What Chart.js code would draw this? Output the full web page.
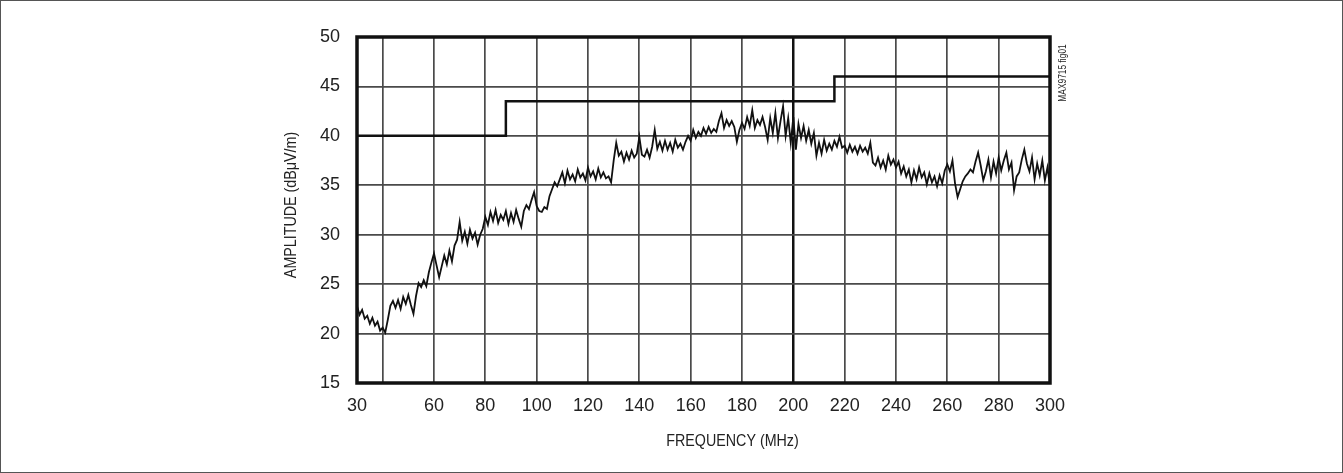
<!DOCTYPE html>
<html>
<head>
<meta charset="utf-8">
<title>MAX9715 fig01</title>
<script src="https://cdn.jsdelivr.net/npm/chart.js@4.4.1/dist/chart.umd.min.js"></script>
<style>
  html, body { margin: 0; padding: 0; background: #fff; }
  .frame { width: 1341px; height: 471px; border: 1px solid #555; }
  canvas { display: block; }
</style>
</head>
<body>
<div class="frame"><canvas id="chart" width="1341" height="471"></canvas></div>
<script>
const freq = [
  30, 31, 32, 33, 34, 35, 36, 37, 38, 39,
  40, 41, 42, 43, 44, 45, 46, 47, 48, 49,
  50, 51, 52, 53, 54, 55, 56, 57, 58, 59,
  60, 61, 62, 63, 64, 65, 66, 67, 68, 69,
  70, 71, 72, 73, 74, 75, 76, 77, 78, 79,
  80, 81, 82, 83, 84, 85, 86, 87, 88, 89,
  90, 91, 92, 93, 94, 95, 96, 97, 98, 99,
  100, 101, 102, 103, 104, 105, 106, 107, 108, 109,
  110, 111, 112, 113, 114, 115, 116, 117, 118, 119,
  120, 121, 122, 123, 124, 125, 126, 127, 128, 129,
  130, 131, 132, 133, 134, 135, 136, 137, 138, 139,
  140, 141, 142, 143, 144, 145, 146, 147, 148, 149,
  150, 151, 152, 153, 154, 155, 156, 157, 158, 159,
  160, 161, 162, 163, 164, 165, 166, 167, 168, 169,
  170, 171, 172, 173, 174, 175, 176, 177, 178, 179,
  180, 181, 182, 183, 184, 185, 186, 187, 188, 189,
  190, 191, 192, 193, 194, 195, 196, 197, 198, 199,
  200, 201, 202, 203, 204, 205, 206, 207, 208, 209,
  210, 211, 212, 213, 214, 215, 216, 217, 218, 219,
  220, 221, 222, 223, 224, 225, 226, 227, 228, 229,
  230, 231, 232, 233, 234, 235, 236, 237, 238, 239,
  240, 241, 242, 243, 244, 245, 246, 247, 248, 249,
  250, 251, 252, 253, 254, 255, 256, 257, 258, 259,
  260, 261, 262, 263, 264, 265, 266, 267, 268, 269,
  270, 271, 272, 273, 274, 275, 276, 277, 278, 279,
  280, 281, 282, 283, 284, 285, 286, 287, 288, 289,
  290, 291, 292, 293, 294, 295, 296, 297, 298, 299,
  300
];

const amplitude = [
  22.8, 21.9, 22.4, 21.5, 21.8, 21.0, 21.6, 20.8, 21.2, 20.3,
  20.6, 20.1, 21.4, 22.8, 23.3, 22.6, 23.4, 22.5, 23.7, 23.0,
  23.9, 22.9, 22.0, 23.8, 25.1, 24.7, 25.4, 24.8, 26.2, 27.2,
  28.1, 26.9, 25.7, 26.8, 27.9, 27.0, 28.4, 27.3, 28.9, 29.5,
  31.3, 29.4, 30.3, 29.1, 30.5, 29.6, 30.2, 29.0, 30.0, 30.6,
  31.8, 31.0, 32.3, 31.4, 32.5, 31.2, 32.0, 31.5, 32.4, 31.1,
  32.2, 31.3, 32.5, 31.6, 30.8, 32.4, 33.0, 32.6, 33.5, 34.3,
  32.9, 32.4, 32.3, 32.8, 32.6, 33.9, 34.6, 35.3, 34.9, 35.6,
  36.3, 35.2, 36.5, 35.6, 36.1, 35.4, 36.6, 35.8, 36.2, 35.5,
  36.8, 35.9, 36.4, 35.6, 36.7, 35.8, 36.3, 35.7, 35.9, 35.3,
  37.5, 39.3, 38.0, 38.4, 37.4, 38.3, 37.6, 38.5, 37.8, 38.2,
  39.9, 38.1, 37.9, 38.6, 37.8, 38.9, 40.6, 38.7, 39.4, 38.5,
  39.5, 38.6, 39.3, 38.4, 39.6, 38.8, 39.2, 38.6, 39.4, 40.0,
  39.5, 40.6, 39.8, 40.4, 40.0, 40.8, 40.2, 40.9, 40.3, 40.7,
  40.4, 41.5, 42.3, 40.8, 41.6, 41.0, 41.5, 40.9, 39.4, 40.6,
  41.3, 40.7, 41.9, 41.0, 42.6, 40.8, 41.6, 41.1, 41.9, 40.9,
  39.6, 41.8, 40.3, 42.3, 39.8, 41.5, 43.0, 40.0, 41.8, 39.3,
  41.9, 38.6, 41.2, 39.8, 41.0, 39.5, 40.6, 39.2, 40.3, 38.0,
  39.3, 38.2, 39.6, 38.5, 39.2, 38.6, 39.5, 38.9, 39.9, 38.8,
  39.0, 38.3, 39.1, 38.4, 38.9, 38.2, 39.0, 38.4, 38.8, 38.2,
  39.3, 37.3, 37.0, 37.8, 36.8, 37.5, 36.6, 38.0, 37.1, 37.6,
  36.8, 37.4, 36.2, 36.9, 35.9, 36.6, 35.3, 36.5, 35.6, 36.8,
  35.8, 36.3, 35.1, 36.2, 35.3, 35.9, 34.9, 36.0, 35.2, 36.5,
  37.1, 36.4, 37.5, 35.2, 33.8, 34.6, 35.4, 35.9, 36.2, 36.6,
  36.3, 37.4, 38.3, 37.0, 35.5, 36.4, 37.6, 35.8, 37.4, 36.2,
  37.8, 36.5, 37.5, 38.3, 36.6, 37.3, 34.5, 35.9, 36.3, 37.6,
  38.6, 37.2, 36.4, 37.8, 35.6, 37.2, 36.0, 37.5, 35.5, 36.8,
  34.9
];

// emission limit steps
const limitFreq = [30, 88, 216, 300];
const limitLevel = [40, 43.5, 46, 46];

const xGrid = [30, 40, 60, 80, 100, 120, 140, 160, 180, 200, 220, 240, 260, 280, 300];
const xTickLabels = [30, 60, 80, 100, 120, 140, 160, 180, 200, 220, 240, 260, 280, 300];

const fontFamily = "'Liberation Sans Narrow', 'Liberation Sans', sans-serif";
const xTitle = 'FREQUENCY (MHz)';
const yTitle = 'AMPLITUDE (dB\u03BCV/m)';
const figTag = 'MAX9715 fig01';

// narrow text, the original uses a condensed face
function narrowText(ctx, text, x, y, rot) {
  ctx.save();
  ctx.translate(x, y);
  ctx.rotate(rot);
  ctx.scale(0.84, 1);
  ctx.fillText(text, 0, 0);
  ctx.restore();
}

const framePlugin = {
  id: 'framePlugin',
  afterDatasetsDraw(c) {
    const { ctx, chartArea: a } = c;
    ctx.save();
    ctx.strokeStyle = '#111';
    ctx.lineWidth = 3.5;
    ctx.strokeRect(a.left, a.top, a.right - a.left, a.bottom - a.top);

    ctx.fillStyle = '#222';
    ctx.textAlign = 'center';
    ctx.textBaseline = 'middle';
    ctx.font = '17px ' + fontFamily;
    narrowText(ctx, xTitle, (a.left + a.right) / 2 + 29, 440, 0);
    narrowText(ctx, yTitle, 290, 204, -Math.PI / 2);

    ctx.font = '10px ' + fontFamily;
    narrowText(ctx, figTag, 1062, 72, -Math.PI / 2);
    ctx.restore();
  }
};

const chart = document.querySelector('#chart').getContext('2d');
new Chart(chart, {
  type: 'line',
  data: {
    datasets: [
      {
        label: 'Emission',
        data: freq.map((f, i) => ({ x: f, y: amplitude[i] })),
        borderColor: '#111',
        borderWidth: 1.8,
        pointRadius: 0,
        tension: 0
      },
      {
        label: 'Limit',
        data: limitFreq.map((f, i) => ({ x: f, y: limitLevel[i] })),
        borderColor: '#111',
        borderWidth: 2.5,
        pointRadius: 0,
        stepped: 'before'
      }
    ]
  },
  options: {
    responsive: false,
    animation: false,
    layout: { padding: { left: 279, right: 292, top: 36, bottom: 0 } },
    plugins: {
      legend: { display: false },
      tooltip: { enabled: false }
    },
    scales: {
      x: {
        type: 'linear',
        min: 30,
        max: 300,
        afterFit(s) { s.height = 89; },
        afterBuildTicks(s) { s.ticks = xGrid.map(v => ({ value: v })); },
        border: { display: false },
        grid: {
          drawTicks: false,
          color: ctx => ctx.tick && ctx.tick.value === 200 ? '#111' : '#4a4a4a',
          lineWidth: ctx => ctx.tick && ctx.tick.value === 200 ? 2.5 : 1.7
        },
        ticks: {
          autoSkip: false,
          maxRotation: 0,
          padding: 12,
          color: '#222',
          font: { family: fontFamily, size: 18 },
          callback: v => xTickLabels.includes(v) ? String(v) : ''
        }
      },
      y: {
        min: 15,
        max: 50,
        afterFit(s) { s.width = 77; },
        border: { display: false },
        grid: { drawTicks: false, color: '#4a4a4a', lineWidth: 1.8 },
        ticks: {
          stepSize: 5,
          padding: 17,
          color: '#222',
          font: { family: fontFamily, size: 18 }
        }
      }
    }
  },
  plugins: [framePlugin]
});
</script>
</body>
</html>
